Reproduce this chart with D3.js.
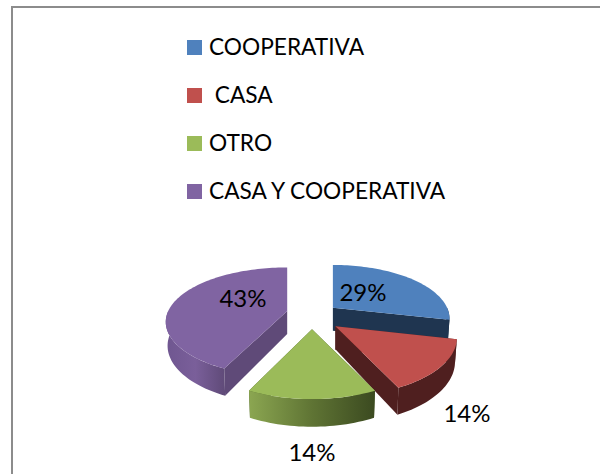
<!DOCTYPE html>
<html>
<head>
<meta charset="utf-8">
<script src="https://cdn.jsdelivr.net/npm/d3@7"></script>
<style>
  html, body { margin: 0; padding: 0; background: #fff; }
  svg { display: block; }
  text { font-family: Lato, "Open Sans", sans-serif; fill: #000; }
</style>
</head>
<body>
<svg id="chart" width="600" height="474"></svg>
<script>
var categories = ['COOPERATIVA', ' CASA', 'OTRO', 'CASA Y COOPERATIVA'];
var values = [2, 1, 1, 3];
var labels = ['29%', '14%', '14%', '43%'];
var colors = ['#4f81bd', '#c0504d', '#9bbb59', '#8064a2'];
var wallColors = ['#1f3550', '#4f1f1f', '#4a5c2a', '#5f4a78'];

var svg = d3.select('#chart');

// frame, the right and bottom edges fall outside the picture
svg.append('rect')
  .attr('x', 12).attr('y', 7)
  .attr('width', 640).attr('height', 520)
  .attr('fill', '#fff')
  .attr('stroke', '#8c8c8c')
  .attr('stroke-width', 2);

// legend
var legendY = d3.scalePoint().domain(categories).range([47, 191]);
var legend = svg.selectAll('g.legend').data(categories).enter().append('g')
  .attr('class', 'legend')
  .attr('transform', function(d){ return 'translate(187,' + legendY(d) + ')'; });
legend.append('rect')
  .attr('x', 0).attr('y', -7).attr('width', 15).attr('height', 15)
  .attr('fill', function(d, i){ return colors[i]; });
legend.append('text')
  .attr('x', 22).attr('y', 8)
  .attr('font-size', 22.7)
  .style('white-space', 'pre')
  .text(function(d){ return d; });

// pie, drawn by hand because d3 has no 3d arc
var pie = d3.pie().sort(null).value(function(d){ return d; });
var slices = pie(values);

var cx = 312, cy = 316, r = 119, persp = 0.2, explode = 28, depth = 23;
// small per slice corrections, the original is not a perfect projection
var sliceRadius = [0.96, 1, 1, 1];
var sliceTilt = [0.45, 0.47, 0.47, 0.44];
var nudgeX = [-1, 1.5, 0, 2.5];
var nudgeY = [0, 2, 0, -2];

// angle + radius fraction -> screen offset from the slice apex
function project(d, a, f){
  var near = -Math.cos(a) * f;
  var s = 1 / (1 - near * persp);
  var rr = r * sliceRadius[d.index];
  return [rr * f * Math.sin(a) * s, rr * sliceTilt[d.index] * f * -Math.cos(a) * s, s];
}
function apex(d){
  var m = (d.startAngle + d.endAngle) / 2;
  return [cx + explode * Math.sin(m) + nudgeX[d.index], cy - explode * 0.47 * Math.cos(m) + nudgeY[d.index]];
}
function topPoint(d, a, f){
  var o = apex(d), p = project(d, a, f);
  return [o[0] + p[0], o[1] + p[1]];
}
function bottomPoint(d, a, f){
  var o = apex(d), p = project(d, a, f);
  return [o[0] + p[0] * 0.985, o[1] + p[1] * 0.985 + depth * p[2]];
}
function arcAngles(a0, a1){
  var n = Math.max(2, Math.ceil((a1 - a0) / 0.03));
  return d3.range(n + 1).map(function(i){ return a0 + (a1 - a0) * i / n; });
}
var line = d3.line();

var defs = svg.append('defs');
function wallGradient(id, stops){
  var g = defs.append('linearGradient').attr('id', id);
  stops.forEach(function(s){
    g.append('stop').attr('offset', s[0]).attr('stop-color', s[1]);
  });
}
wallGradient('wall-blue', [[0, '#1f3550'], [1, '#1f3550']]);
wallGradient('wall-red', [[0, '#4f1f1f'], [1, '#4f1f1f']]);
wallGradient('wall-green', [[0, '#8ba651'], [0.5, '#5f7434'], [1, '#3b4a20']]);
wallGradient('wall-purple', [[0, '#6f5690'], [0.5, '#7a5f9a'], [1, '#5f4a78']]);
var wallFill = ['url(#wall-blue)', 'url(#wall-red)', 'url(#wall-green)', 'url(#wall-purple)'];

var gSlices = svg.selectAll('g.slice').data(slices).enter().append('g').attr('class', 'slice');

gSlices.each(function(d, i){
  var g = d3.select(this);
  // flat side from apex to rim at angle a
  function side(a){
    var pts = [topPoint(d, a, 0), topPoint(d, a, 1), bottomPoint(d, a, 1), bottomPoint(d, a, 0)];
    g.append('path').attr('d', line(pts) + 'Z').attr('fill', wallColors[i]);
  }
  side(d.startAngle);
  side(d.endAngle);

  // outer wall, only the part facing the viewer
  var a0 = Math.max(d.startAngle, Math.PI / 2);
  var a1 = Math.min(d.endAngle, Math.PI * 1.5);
  if (a1 > a0){
    var angles = arcAngles(a0, a1);
    var pts = angles.map(function(a){ return topPoint(d, a, 1); })
      .concat(angles.slice().reverse().map(function(a){ return bottomPoint(d, a, 1); }));
    g.append('path').attr('d', line(pts) + 'Z').attr('fill', wallFill[i]);
  }

  // top face
  var face = [topPoint(d, d.startAngle, 0)].concat(
    arcAngles(d.startAngle, d.endAngle).map(function(a){ return topPoint(d, a, 1); }));
  g.append('path').attr('d', line(face) + 'Z').attr('fill', colors[i]);
});

// percent labels
var labelX = d3.scaleOrdinal().domain([0, 1, 2, 3]).range([363, 467, 312, 243]);
var labelY = d3.scaleOrdinal().domain([0, 1, 2, 3]).range([301, 422, 461, 307]);
svg.selectAll('text.pct').data(labels).enter().append('text')
  .attr('class', 'pct')
  .attr('x', function(d, i){ return labelX(i); })
  .attr('y', function(d, i){ return labelY(i); })
  .attr('text-anchor', 'middle')
  .attr('font-size', 24)
  .text(function(d){ return d; });
</script>
</body>
</html>
